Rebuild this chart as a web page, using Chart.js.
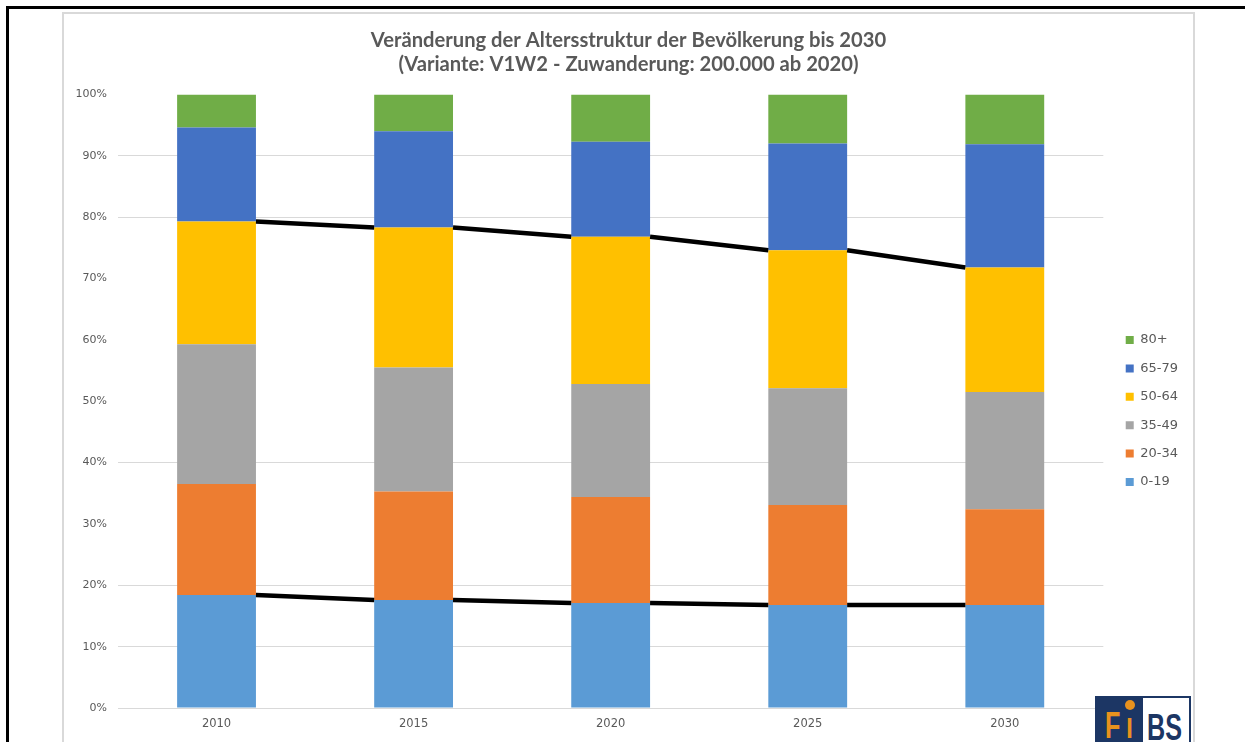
<!DOCTYPE html>
<html lang="de">
<head>
<meta charset="UTF-8">
<title>Altersstruktur bis 2030</title>
<script src="https://cdn.jsdelivr.net/npm/chart.js@4.4.1/dist/chart.umd.min.js"></script>
<style>
  body { margin: 0; background: #fff; width: 1245px; height: 742px; overflow: hidden; position: relative; }
  #frame { position: absolute; left: 6px; top: 6px; width: 1260px; height: 760px; border-top: 3px solid #000; border-left: 3px solid #000; }
  #box { position: absolute; left: 62px; top: 12px; width: 1129px; height: 740px; border: 2px solid #d9d9d9; border-bottom: none; }
  #box canvas { position: absolute; left: 0; top: 0; }
  #logo { position: absolute; left: 1095px; top: 696px; width: 98px; height: 50px; }
  #logo .fi { position: absolute; left: 0; top: 0; width: 48px; height: 50px; background: #1c3664; }
  #logo .bs { position: absolute; left: 48px; top: 0; width: 46px; height: 48px; background: #fff; border: 2px solid #1c3664; border-left: none; }
  #logo span { position: absolute; font-family: "Liberation Sans", sans-serif; font-weight: bold; font-size: 37px; line-height: 37px; transform: scaleX(0.68); transform-origin: left top; }
  #logo .dot { position: absolute; left: 30px; top: 4px; width: 10px; height: 10px; border-radius: 50%; background: #e8921e; }
</style>
</head>
<body>
<div id="frame"></div>
<div id="box">
  <canvas id="chart" width="1129" height="730"></canvas>
</div>
<div id="logo">
  <div class="fi">
    <span style="left:10px; top:11px; color:#e8921e;">F</span>
    <span style="left:31px; top:11px; color:#e8921e;">ı</span>
    <div class="dot"></div>
  </div>
  <div class="bs">
    <span style="left:4px; top:11px; color:#1c3664;">BS</span>
  </div>
</div>
<script>
// Jahre und Altersgruppen
const years = ['2010', '2015', '2020', '2025', '2030'];
const groups = ['0-19', '20-34', '35-49', '50-64', '65-79', '80+'];
const colors = ['#5b9bd5', '#ed7d31', '#a5a5a5', '#ffc000', '#4472c4', '#70ad47'];

// Anteile in %
const age0_19  = [18.4, 17.6, 17.1, 16.8, 16.8];
const age20_34 = [18.1, 17.7, 17.3, 16.3, 15.6];
const age35_49 = [22.8, 20.2, 18.4, 19.0, 19.1];
const age50_64 = [20.0, 22.8, 24.0, 22.5, 20.3];
const age65_79 = [15.3, 15.7, 15.5, 17.4, 20.1];
const age80    = [5.4, 6.0, 7.7, 8.0, 8.1];
const seriesValues = [age0_19, age20_34, age35_49, age50_64, age65_79, age80];

const yTicks = [0, 10, 20, 30, 40, 50, 60, 70, 80, 90, 100];
const visibleGrid = [10, 20, 40, 80, 90];

// Verbindungslinien an Oberkante von 0-19 und 50-64
const connectSeries = [0, 3];

const seriesLines = {
  id: 'seriesLines',
  afterDatasetsDraw(chart) {
    const ctx = chart.ctx;
    ctx.save();
    ctx.strokeStyle = '#000';
    ctx.lineWidth = 4.5;
    connectSeries.forEach(di => {
      const bars = chart.getDatasetMeta(di).data;
      for (let i = 0; i < bars.length - 1; i++) {
        const a = bars[i], b = bars[i + 1];
        ctx.beginPath();
        ctx.moveTo(a.x + a.width / 2, a.y);
        ctx.lineTo(b.x - b.width / 2, b.y);
        ctx.stroke();
      }
    });
    ctx.restore();
  }
};

// Legende etwas verschieben
const legendNudge = {
  id: 'legendNudge',
  afterLayout(chart) {
    const l = chart.legend;
    l.left += 7; l.right += 7;
    l.top += 32; l.bottom += 32;
  }
};

new Chart(document.getElementById('chart'), {
  type: 'bar',
  data: {
    labels: years,
    datasets: groups.map((g, i) => ({
      label: g,
      data: seriesValues[i],
      backgroundColor: colors[i],
      borderWidth: 0,
      barPercentage: 0.4,
      categoryPercentage: 1.0
    }))
  },
  options: {
    responsive: false,
    animation: false,
    layout: { padding: { left: 12, right: 12, top: 0, bottom: 0 } },
    plugins: {
      title: {
        display: true,
        text: ['Veränderung der Altersstruktur der Bevölkerung bis 2030',
               '(Variante: V1W2 - Zuwanderung: 200.000 ab 2020)'],
        color: '#595959',
        font: { family: 'Lato', size: 20.2, weight: 'bold', lineHeight: 1.2 },
        padding: { top: 14, bottom: 18 }
      },
      legend: {
        position: 'right',
        reverse: true,
        labels: {
          boxWidth: 8,
          boxHeight: 8,
          padding: 15.4,
          color: '#595959',
          font: { family: 'DejaVu Sans', size: 13 }
        }
      },
      tooltip: { enabled: false }
    },
    scales: {
      x: {
        stacked: true,
        grid: { display: false, drawTicks: false },
        border: { display: true, color: '#d9d9d9', width: 1 },
        ticks: { color: '#595959', padding: 9, font: { family: 'DejaVu Sans', size: 11.5 } },
        afterFit(scale) { scale.height = 36; }
      },
      y: {
        stacked: true,
        min: 0,
        max: 100,
        afterBuildTicks(scale) { scale.ticks = yTicks.map(v => ({ value: v })); },
        grid: {
          drawTicks: false,
          color: c => visibleGrid.includes(c.tick.value) ? '#d9d9d9' : 'rgba(0,0,0,0)',
          lineWidth: 1
        },
        border: { display: false },
        ticks: {
          color: '#595959',
          padding: 11,
          font: { family: 'DejaVu Sans', size: 11 },
          callback: v => v + '%'
        },
        afterFit(scale) { scale.width = 42; }
      }
    }
  },
  plugins: [seriesLines, legendNudge]
});
</script>
</body>
</html>
